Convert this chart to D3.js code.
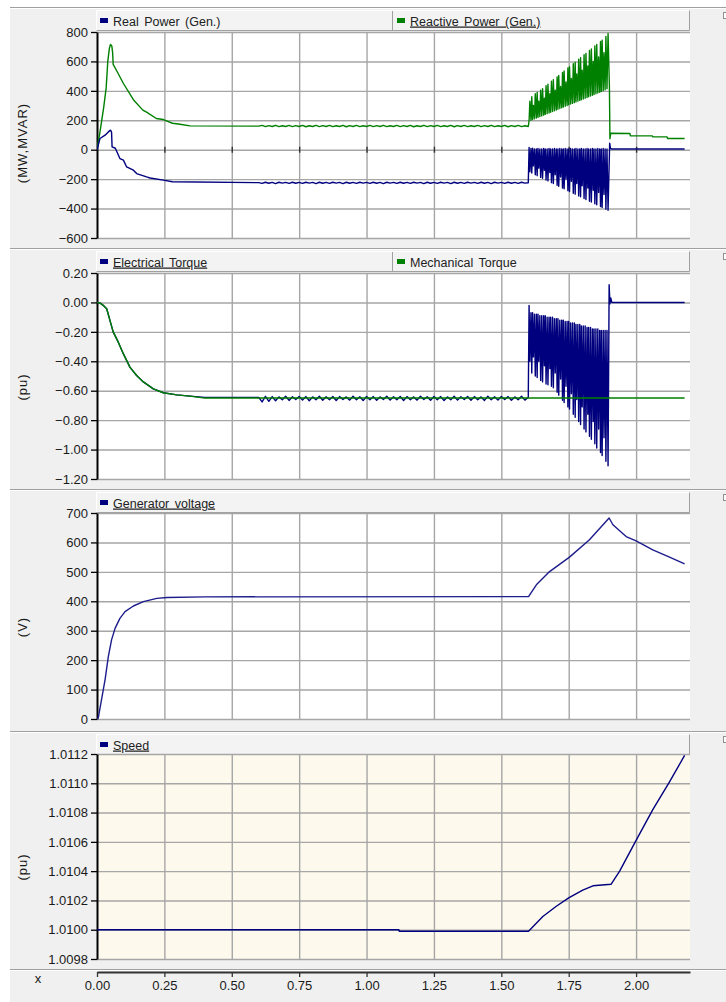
<!DOCTYPE html>
<html>
<head>
<meta charset="utf-8">
<script src="https://cdn.jsdelivr.net/npm/d3@7"></script>
<style>
body { margin: 0; background: #fff; }
svg { display: block; font-family: "Liberation Sans", Arial, sans-serif; }
</style>
</head>
<body>
<div id="chart"></div>
<script>
// ************ Data ************
var xTicks = [0, 0.25, 0.5, 0.75, 1.0, 1.25, 1.5, 1.75, 2.0];
var powerTicks = [-600, -400, -200, 0, 200, 400, 600, 800];
var torqueTicks = [-1.2, -1.0, -0.8, -0.6, -0.4, -0.2, 0, 0.2];
var voltTicks = [0, 100, 200, 300, 400, 500, 600, 700];
var speedTicks = [1.0098, 1.0100, 1.0102, 1.0104, 1.0106, 1.0108, 1.0110, 1.0112];

// small ripple between 0.6 s and 1.6 s
var rippleT = [0.6000, 0.6125, 0.6250, 0.6375, 0.6500, 0.6625, 0.6750, 0.6875, 0.7000, 0.7125,
               0.7250, 0.7375, 0.7500, 0.7625, 0.7750, 0.7875, 0.8000, 0.8125, 0.8250, 0.8375,
               0.8500, 0.8625, 0.8750, 0.8875, 0.9000, 0.9125, 0.9250, 0.9375, 0.9500, 0.9625,
               0.9750, 0.9875, 1.0000, 1.0125, 1.0250, 1.0375, 1.0500, 1.0625, 1.0750, 1.0875,
               1.1000, 1.1125, 1.1250, 1.1375, 1.1500, 1.1625, 1.1750, 1.1875, 1.2000, 1.2125,
               1.2250, 1.2375, 1.2500, 1.2625, 1.2750, 1.2875, 1.3000, 1.3125, 1.3250, 1.3375,
               1.3500, 1.3625, 1.3750, 1.3875, 1.4000, 1.4125, 1.4250, 1.4375, 1.4500, 1.4625,
               1.4750, 1.4875, 1.5000, 1.5125, 1.5250, 1.5375, 1.5500, 1.5625, 1.5750, 1.5875, 1.6000];
// oscillation burst between 1.6 s and 1.9 s (pairs: peak / trough)
var burstT = [1.603, 1.606, 1.610, 1.613, 1.616, 1.619, 1.623, 1.626, 1.630, 1.633,
              1.636, 1.639, 1.643, 1.646, 1.650, 1.653, 1.657, 1.660, 1.663, 1.666,
              1.670, 1.673, 1.677, 1.680, 1.683, 1.686, 1.690, 1.693, 1.697, 1.700,
              1.704, 1.707, 1.710, 1.713, 1.717, 1.720, 1.724, 1.727, 1.730, 1.733,
              1.737, 1.740, 1.744, 1.747, 1.750, 1.753, 1.757, 1.760, 1.764, 1.767,
              1.771, 1.774, 1.777, 1.780, 1.784, 1.787, 1.791, 1.794, 1.797, 1.800,
              1.804, 1.807, 1.811, 1.814, 1.818, 1.821, 1.824, 1.827, 1.831, 1.834,
              1.838, 1.841, 1.844, 1.847, 1.851, 1.854, 1.858, 1.861, 1.865, 1.868,
              1.871, 1.874, 1.878, 1.881, 1.885, 1.888, 1.892, 1.896];

// Reactive power (Gen.)
var qStartT = [0, 0.011, 0.025, 0.034, 0.040, 0.046, 0.050, 0.055, 0.058, 0.060, 0.075, 0.098, 0.135, 0.170, 0.184, 0.220, 0.246, 0.280, 0.308, 0.345, 0.590];
var qStartV = [0, 119, 290, 420, 600, 690, 716, 705, 660, 580, 530, 450, 340, 269, 255, 212, 205, 180, 173, 162, 160];
var qRipple = [160, 165, 157, 164, 158, 166, 157, 163, 158, 165,
               157, 164, 158, 165, 156, 163, 158, 166, 157, 164,
               158, 165, 157, 163, 158, 166, 156, 164, 158, 165,
               157, 163, 158, 165, 157, 164, 158, 166, 157, 163,
               158, 165, 157, 164, 158, 165, 156, 163, 158, 166,
               157, 164, 158, 165, 157, 163, 158, 166, 156, 164,
               158, 165, 157, 163, 158, 165, 157, 164, 158, 166,
               157, 163, 158, 165, 156, 164, 158, 165, 157, 163, 158];
var qBurst = [195, 330, 200, 360, 205, 300, 210, 380, 215, 390, 220, 330, 225, 405, 230, 415, 235, 350, 240, 435,
              245, 445, 250, 380, 255, 465, 260, 475, 265, 405, 270, 495, 275, 505, 280, 430, 285, 525, 290, 535,
              295, 460, 300, 555, 305, 565, 310, 485, 315, 585, 320, 595, 325, 515, 330, 615, 335, 625, 340, 540,
              345, 645, 350, 655, 355, 570, 360, 675, 365, 685, 370, 600, 375, 705, 380, 715, 385, 630, 390, 735,
              395, 745, 400, 660, 408, 770, 415, 790];
var qEndT = [1.901, 1.903, 1.906, 1.977, 1.979, 2.060, 2.062, 2.115, 2.117, 2.180];
var qEndV = [430, 75, 112, 110, 94, 94, 87, 87, 76, 76];

// Real power (Gen.)
var pStartT = [0, 0.011, 0.030, 0.042, 0.050, 0.054, 0.056, 0.068, 0.085, 0.098, 0.110, 0.135, 0.147, 0.184, 0.197, 0.246, 0.280, 0.590];
var pStartV = [0, 76, 99, 121, 133, 120, 19, 10, -60, -71, -117, -139, -162, -185, -192, -207, -218, -224];
var pRipple = [-224, -229, -221, -228, -222, -230, -221, -227, -222, -229,
               -221, -228, -222, -229, -221, -227, -222, -230, -221, -228,
               -222, -229, -221, -227, -222, -230, -221, -228, -222, -229,
               -221, -227, -222, -229, -221, -228, -222, -230, -221, -227,
               -222, -229, -221, -228, -222, -229, -221, -227, -222, -230,
               -221, -228, -222, -229, -221, -227, -222, -230, -221, -228,
               -222, -229, -221, -227, -222, -229, -221, -228, -222, -230,
               -221, -227, -222, -229, -221, -228, -222, -229, -221, -227, -225];
var pBurst = [15, -150, 8, -158, 10, -110, 6, -170, 5, -176, 8, -125, 5, -188, 5, -194, 8, -140, 5, -206,
              5, -212, 8, -155, 5, -224, 5, -230, 8, -170, 5, -242, 5, -248, 8, -185, 5, -260, 5, -266,
              8, -200, 5, -278, 5, -284, 8, -215, 5, -296, 5, -302, 8, -230, 5, -314, 5, -320, 8, -245,
              5, -332, 5, -338, 8, -260, 5, -350, 5, -356, 8, -275, 5, -368, 5, -374, 8, -290, 5, -386,
              5, -392, 8, -305, 5, -404, 5, -412];
var pEndT = [1.902, 1.905, 1.910, 2.180];
var pEndV = [45, 8, 5, 5];

// Electrical torque
var teStartT = [0, 0.012, 0.023, 0.036, 0.048, 0.060, 0.079, 0.098, 0.122, 0.147, 0.172, 0.209, 0.246, 0.296, 0.345, 0.400, 0.590];
var teStartV = [0, -0.005, -0.02, -0.043, -0.122, -0.20, -0.27, -0.35, -0.44, -0.497, -0.54, -0.587, -0.614, -0.628, -0.637, -0.645, -0.645];
var teRipple = [-0.645, -0.676, -0.638, -0.672, -0.640, -0.668, -0.642, -0.662, -0.638, -0.666,
                -0.641, -0.660, -0.639, -0.664, -0.640, -0.668, -0.642, -0.662, -0.638, -0.665,
                -0.641, -0.661, -0.639, -0.666, -0.640, -0.660, -0.642, -0.664, -0.638, -0.662,
                -0.641, -0.667, -0.639, -0.661, -0.640, -0.665, -0.642, -0.660, -0.638, -0.664,
                -0.641, -0.662, -0.639, -0.666, -0.640, -0.661, -0.642, -0.664, -0.638, -0.660,
                -0.641, -0.665, -0.639, -0.662, -0.640, -0.666, -0.642, -0.661, -0.638, -0.664,
                -0.641, -0.660, -0.639, -0.665, -0.640, -0.662, -0.642, -0.666, -0.638, -0.661,
                -0.641, -0.664, -0.639, -0.660, -0.640, -0.665, -0.642, -0.662, -0.638, -0.664, -0.645];
var teBurst = [-0.02, -0.40, -0.07, -0.48, -0.07, -0.37, -0.08, -0.50, -0.08, -0.51, -0.08, -0.40, -0.09, -0.53, -0.09, -0.54, -0.09, -0.43, -0.09, -0.555,
               -0.10, -0.56, -0.10, -0.45, -0.10, -0.57, -0.10, -0.58, -0.11, -0.48, -0.11, -0.61, -0.11, -0.63, -0.12, -0.52, -0.12, -0.665, -0.12, -0.68,
               -0.13, -0.57, -0.13, -0.71, -0.13, -0.725, -0.14, -0.62, -0.14, -0.76, -0.14, -0.78, -0.15, -0.66, -0.15, -0.81, -0.15, -0.83, -0.16, -0.71,
               -0.16, -0.86, -0.16, -0.88, -0.17, -0.76, -0.17, -0.91, -0.17, -0.93, -0.18, -0.81, -0.18, -0.96, -0.18, -0.99, -0.18, -0.86, -0.19, -1.02,
               -0.19, -1.04, -0.19, -0.92, -0.19, -1.08, -0.19, -1.11];
var teEndT = [1.900, 1.903, 1.906, 1.910, 1.930, 2.180];
var teEndV = [0.12, -0.01, 0.03, 0.0, 0.0, 0.0];

// Mechanical torque
var tmT = [0, 0.012, 0.023, 0.036, 0.048, 0.060, 0.079, 0.098, 0.122, 0.147, 0.172, 0.209, 0.246, 0.296, 0.345, 0.400, 2.180];
var tmV = [0, -0.005, -0.02, -0.043, -0.122, -0.20, -0.27, -0.35, -0.44, -0.497, -0.54, -0.587, -0.614, -0.628, -0.637, -0.65, -0.65];

// Generator voltage
var voltT = [0, 0.005, 0.010, 0.030, 0.042, 0.054, 0.067, 0.085, 0.104, 0.135, 0.172, 0.222, 0.260, 0.400, 1.601, 1.630, 1.679, 1.753, 1.827, 1.900, 1.914, 1.963, 2.000, 2.062, 2.124, 2.180];
var voltV = [0, 5, 31, 134, 212, 269, 308, 342, 365, 384, 399, 410, 413, 415, 416, 456, 501, 550, 609, 683, 660, 620, 605, 575, 550, 527];

// Speed
var speedT = [0, 1.120, 1.121, 1.601, 1.654, 1.704, 1.750, 1.802, 1.840, 1.907, 1.939, 2.000, 2.062, 2.124, 2.180];
var speedV = [1.0100, 1.0100, 1.00999, 1.00999, 1.01009, 1.01016, 1.010217, 1.01027, 1.0103, 1.01031, 1.0104, 1.01061, 1.01082, 1.01101, 1.01119];

// ************ Frame ************
var W = 726, H = 1002;
var svg = d3.select('#chart').append('svg')
    .attr('width', W)
    .attr('height', H);

svg.append('rect').attr('width', W).attr('height', H).style('fill', '#f0f0f0');
svg.append('rect').attr('width', W).attr('height', 7).style('fill', '#fff');
svg.append('rect').attr('width', 10).attr('height', H).style('fill', '#fff');

var x = d3.scaleLinear().domain([0, 2.2]).range([97, 690]);
var line = d3.line().x(function(d) { return x(d[0]); }).y(function(d) { return d[1]; });

function series(tArr, vArr) {
  return d3.zip(tArr, vArr);
}

var navy = '#00007f';
var green = '#008000';

var panels = [
  { top: 7, plotTop: 32, plotBottom: 238, domain: [-600, 800], ticks: powerTicks, fmt: d3.format('d'),
    title: '(MW,MVAR)', titleY: 143, bg: '#fff',
    legend: [{ name: 'Real Power (Gen.)', color: navy, underline: false },
             { name: 'Reactive Power (Gen.)', color: green, underline: true }],
    lines: [
      { data: series(qStartT.concat(rippleT, burstT, qEndT), qStartV.concat(qRipple, qBurst, qEndV)), color: green },
      { data: series(pStartT.concat(rippleT, burstT, pEndT), pStartV.concat(pRipple, pBurst, pEndV)), color: navy }
    ],
    zeroTicks: true },
  { top: 248, plotTop: 273, plotBottom: 479, domain: [-1.2, 0.2], ticks: torqueTicks, fmt: d3.format('.2f'),
    title: '(pu)', titleY: 387, bg: '#fff',
    legend: [{ name: 'Electrical Torque', color: navy, underline: true },
             { name: 'Mechanical Torque', color: green, underline: false }],
    lines: [
      { data: series(teStartT.concat(rippleT, burstT, teEndT), teStartV.concat(teRipple, teBurst, teEndV)), color: navy },
      { data: series(tmT, tmV), color: green }
    ] },
  { top: 489, plotTop: 513, plotBottom: 719, domain: [0, 700], ticks: voltTicks, fmt: d3.format('d'),
    title: '(V)', titleY: 627, bg: '#fff',
    legend: [{ name: 'Generator voltage', color: navy, underline: true }],
    lines: [{ data: series(voltT, voltV), color: '#1c1c8c' }] },
  { top: 731, plotTop: 754, plotBottom: 959, domain: [1.0098, 1.0112], ticks: speedTicks, fmt: d3.format('.4f'),
    title: '(pu)', titleY: 867, bg: '#fef9ed',
    legend: [{ name: 'Speed', color: navy, underline: true }],
    lines: [{ data: series(speedT, speedV), color: navy }] }
];

panels.forEach(function(p) {
  var g = svg.append('g');
  var y = d3.scaleLinear().domain(p.domain).range([p.plotBottom, p.plotTop]);

  // separator
  g.append('line').attr('x1', 10).attr('x2', W).attr('y1', p.top + 0.5).attr('y2', p.top + 0.5)
    .style('stroke', '#a0a0a0');
  g.append('line').attr('x1', 10).attr('x2', W).attr('y1', p.top + 1.5).attr('y2', p.top + 1.5)
    .style('stroke', '#fff');

  // small marker at right edge
  g.append('rect').attr('x', 723.5).attr('y', p.top + 5.5).attr('width', 3).attr('height', 6)
    .style('fill', '#fff').style('stroke', '#909090');

  // legend bar
  g.append('rect').attr('x', 96.5).attr('y', p.top + 3.5).attr('width', 593).attr('height', 20)
    .style('fill', '#f3f3f3').style('stroke', '#fff');
  g.append('path').attr('d', 'M96.5,' + (p.top + 23.5) + 'H689.5V' + (p.top + 3.5))
    .style('fill', 'none').style('stroke', '#a0a0a0');

  p.legend.forEach(function(item, i) {
    var lx = i === 0 ? 100 : 397;
    if (i > 0) {
      g.append('line').attr('x1', 392.5).attr('x2', 392.5).attr('y1', p.top + 4).attr('y2', p.top + 23)
        .style('stroke', '#a0a0a0');
    }
    g.append('rect').attr('x', lx).attr('y', p.top + 11).attr('width', 8).attr('height', 5)
      .style('fill', item.color);
    g.append('text').attr('x', lx + 13).attr('y', p.top + 18.5)
      .style('font-size', '12.5px').style('word-spacing', '2px').style('fill', '#222')
      .style('text-decoration', item.underline ? 'underline' : 'none')
      .text(item.name);
  });

  // plot background
  g.append('rect').attr('x', 97).attr('y', p.plotTop).attr('width', 593).attr('height', p.plotBottom - p.plotTop)
    .style('fill', p.bg);

  // grid
  var gridY = g.append('g').attr('transform', 'translate(97,0)')
    .call(d3.axisLeft(y).tickValues(p.ticks).tickSize(-593).tickFormat(''));
  gridY.select('.domain').remove();
  gridY.selectAll('line').style('stroke', '#a6a6a6').style('stroke-width', 1.4);

  var gridX = g.append('g').attr('transform', 'translate(0,' + p.plotBottom + ')')
    .call(d3.axisBottom(x).tickValues(xTicks.slice(1)).tickSize(-(p.plotBottom - p.plotTop)).tickFormat(''));
  gridX.select('.domain').remove();
  gridX.selectAll('line').style('stroke', '#a6a6a6').style('stroke-width', 1.4);

  if (p.zeroTicks) {
    var zt = g.append('g').attr('transform', 'translate(0,' + (y(0) + 3) + ')')
      .call(d3.axisBottom(x).tickValues(xTicks.slice(1)).tickSize(-6).tickFormat(''));
    zt.select('.domain').remove();
    zt.selectAll('line').style('stroke', '#333').style('stroke-width', 1.4);
  }

  // y axis
  var ax = g.append('g').attr('transform', 'translate(97,0)')
    .call(d3.axisLeft(y).tickValues(p.ticks).tickFormat(p.fmt).tickSize(6).tickSizeOuter(0).tickPadding(3));
  ax.select('.domain').style('stroke', '#000').style('stroke-width', 2);
  ax.selectAll('.tick line').style('stroke', '#000').style('stroke-width', 1.3);
  ax.selectAll('text').style('font-size', '13px').style('fill', '#1a1a1a')
    .style('font-family', '"Liberation Sans", Arial, sans-serif');

  // y title
  g.append('text').attr('transform', 'translate(27,' + p.titleY + ') rotate(-90)')
    .attr('text-anchor', 'middle')
    .style('font-size', '13px').style('letter-spacing', '1px').style('fill', '#1a1a1a')
    .text(p.title);

  // series
  var clip = 'clip' + p.top;
  g.append('clipPath').attr('id', clip).append('rect')
    .attr('x', 97).attr('y', p.plotTop - 2).attr('width', 593).attr('height', p.plotBottom - p.plotTop + 4);
  var lg = g.append('g').attr('clip-path', 'url(#' + clip + ')');
  p.lines.forEach(function(s) {
    lg.append('path')
      .datum(s.data.map(function(d) { return [d[0], y(d[1])]; }))
      .attr('d', line)
      .style('fill', 'none')
      .style('stroke', s.color)
      .style('stroke-width', 1.4)
      .style('stroke-linejoin', 'round');
  });
});

// ************ Bottom x axis ************
svg.append('line').attr('x1', 10).attr('x2', W).attr('y1', 969.5).attr('y2', 969.5).style('stroke', '#a0a0a0');
svg.append('line').attr('x1', 10).attr('x2', W).attr('y1', 970.5).attr('y2', 970.5).style('stroke', '#fff');

var xAxis = svg.append('g').attr('transform', 'translate(0,972)')
  .call(d3.axisBottom(x).tickValues(xTicks).tickFormat(d3.format('.2f')).tickSize(5).tickSizeOuter(0).tickPadding(4));
xAxis.select('.domain').style('stroke', '#333').style('stroke-width', 2);
xAxis.selectAll('.tick line').style('stroke', '#333').style('stroke-width', 1.3);
xAxis.selectAll('text').style('font-size', '13px').style('fill', '#1a1a1a')
  .style('font-family', '"Liberation Sans", Arial, sans-serif');

svg.append('text').attr('x', 38).attr('y', 983).attr('text-anchor', 'middle')
  .style('font-size', '13px').style('fill', '#1a1a1a').text('x');
</script>
</body>
</html>
